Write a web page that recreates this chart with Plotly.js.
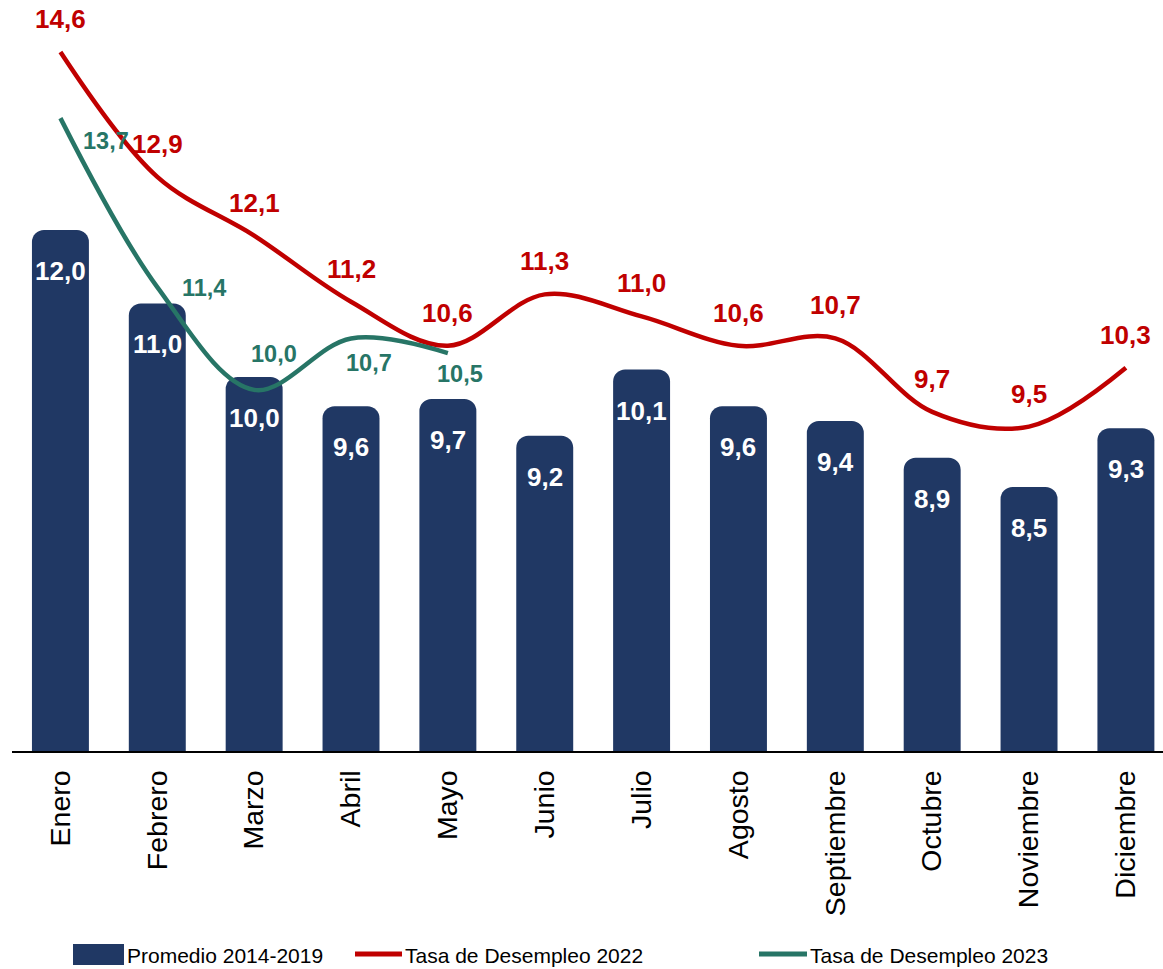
<!DOCTYPE html>
<html>
<head>
<meta charset="utf-8">
<script src="https://cdn.plot.ly/plotly-3.0.1.min.js"></script>
<style>html,body{margin:0;padding:0;background:#fff;}#chart{width:1163px;height:969px;}</style>
</head>
<body>
<div id="chart"></div>
<script>
// ---- data ----
const months = ["Enero","Febrero","Marzo","Abril","Mayo","Junio","Julio","Agosto","Septiembre","Octubre","Noviembre","Diciembre"];
const promedio = [12.0, 11.0, 10.0, 9.6, 9.7, 9.2, 10.1, 9.6, 9.4, 8.9, 8.5, 9.3];
const tasa2022 = [14.6, 12.9, 12.1, 11.2, 10.6, 11.3, 11.0, 10.6, 10.7, 9.7, 9.5, 10.3];
const tasa2023 = [13.7, 11.4, 10.0, 10.7, 10.5];
const seriesNames = ["Promedio 2014-2019", "Tasa de Desempleo 2022", "Tasa de Desempleo 2023"];

// ---- style ----
const FONT = "Liberation Sans, Arial, sans-serif";
const NAVY = "#203864", RED = "#C00000", GREEN = "#277566";
const fmt = v => v.toFixed(1).replace(".", ",");
// label offsets (px) for 2023 labels: [dx, dy up]
const greenShift = [[46,-23],[47,-1],[20,36],[18,-25],[12,-21]];

const traces = [
  {type:"bar", x: months, y: promedio, name: seriesNames[0], width: 0.588,
   marker:{color: NAVY, cornerradius: 12}, hoverinfo:"skip"},
  {type:"scatter", mode:"lines", x: months, y: tasa2022, name: seriesNames[1], yaxis:"y2",
   line:{color: RED, width: 4.5, shape:"spline", smoothing: 1}},
  {type:"scatter", mode:"lines", x: months.slice(0, tasa2023.length), y: tasa2023, name: seriesNames[2], yaxis:"y2",
   line:{color: GREEN, width: 4.5, shape:"spline", smoothing: 1}}
];

const annotations = [];
promedio.forEach((v,i) => annotations.push({
  x: months[i], y: v, xref:"x", yref:"y", text: fmt(v), showarrow:false,
  yshift: -41, font:{family: FONT, size: 26, color:"#ffffff", weight: 700}
}));
tasa2022.forEach((v,i) => annotations.push({
  x: months[i], y: v, xref:"x", yref:"y2", text: fmt(v), showarrow:false,
  yshift: 33, font:{family: FONT, size: 26, color: RED, weight: 700}
}));
tasa2023.forEach((v,i) => annotations.push({
  x: months[i], y: v, xref:"x", yref:"y2", text: fmt(v), showarrow:false,
  xshift: greenShift[i][0], yshift: greenShift[i][1],
  font:{family: FONT, size: 23.5, color: GREEN, weight: 700}
}));

// manual legend
const W = 1151, H = 741, L = 12, B = 751;
const px = x => (x - L) / W, py = y => (B - y) / H;
const legY = 955;
const shapes = [
  {type:"rect", xref:"paper", yref:"paper", x0:px(73), x1:px(124), y0:py(965), y1:py(944),
   fillcolor: NAVY, line:{width:0}},
  {type:"line", xref:"paper", yref:"paper", x0:px(355), x1:px(402), y0:py(954), y1:py(954),
   line:{color: RED, width: 5}},
  {type:"line", xref:"paper", yref:"paper", x0:px(759), x1:px(807), y0:py(954), y1:py(954),
   line:{color: GREEN, width: 5}}
];
[[125, seriesNames[0]], [403, seriesNames[1]], [808, seriesNames[2]]].forEach(([x,t]) => annotations.push({
  xref:"paper", yref:"paper", x: px(x), y: py(legY), xanchor:"left", yanchor:"middle",
  text: t, showarrow:false, font:{family: FONT, size: 21, color:"#000"}
}));

const layout = {
  width: 1163, height: 969,
  margin:{l: 12, r: 0, t: 10, b: 218},
  paper_bgcolor:"#fff", plot_bgcolor:"#fff",
  showlegend: false,
  font:{family: FONT, color:"#000"},
  xaxis:{type:"category", range:[-0.5, 11.383], showgrid:false, zeroline:false,
         showline:true, linecolor:"#000", linewidth:2, ticks:"", tickangle:-90,
         ticklabelstandoff: 6, tickfont:{family: FONT, size: 28.5, color:"#000"}},
  yaxis:{range:[4.907, 14.995], visible:false, showgrid:false, zeroline:false},
  yaxis2:{range:[5.083, 15.172], overlaying:"y", visible:false, showgrid:false, zeroline:false},
  annotations, shapes
};

Plotly.newPlot("chart", traces, layout, {displayModeBar:false, staticPlot:true});
</script>
</body>
</html>
